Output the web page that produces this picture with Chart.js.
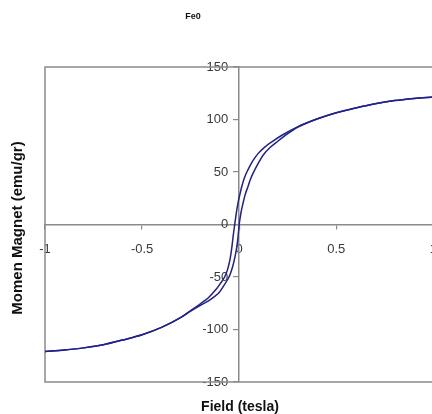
<!DOCTYPE html>
<html><head><meta charset="utf-8">
<script src="https://cdn.jsdelivr.net/npm/chart.js@4/dist/chart.umd.min.js"></script>
<style>
html,body{margin:0;padding:0;background:#fff;overflow:hidden;width:432px;height:414px}
#wrap{position:absolute;left:0;top:0;width:450px;height:414px}
</style></head><body><div id="wrap"><canvas id="c" width="450" height="414"></canvas></div>
<script>
// ---- data ----
const chartTitle = 'Fe0';
const xTitle = 'Field (tesla)';
const yTitle = 'Momen Magnet (emu/gr)';

const xTickValues = [-1, -0.5, 0, 0.5, 1];
const xTickLabels = ['-1', '-0.5', '0', '0.5', '1'];
const yTickValues = [-150, -100, -50, 0, 50, 100, 150];
const yTickLabels = ['-150', '-100', '-50', '0', '50', '100', '150'];

// descending-field branch (upper curve of the loop)
const downField  = [-1, -0.9, -0.8, -0.7, -0.6, -0.5, -0.4, -0.3, -0.25, -0.2, -0.16, -0.12, -0.1, -0.075, -0.06, -0.047, -0.038, -0.031, -0.023, -0.015, -0.006, 0.004, 0.013, 0.028, 0.045, 0.07, 0.097, 0.13, 0.17, 0.22, 0.3, 0.4, 0.5, 0.6, 0.7, 0.8, 0.9, 1];
const downMoment = [-121, -119.5, -117.5, -114.5, -110, -105, -98, -88.5, -82, -75.5, -70, -62, -57, -50, -43, -33, -22, -11, 0, 10.5, 20.5, 29, 36, 45, 52, 60.5, 67.5, 73.5, 79, 85, 93, 100.5, 106.5, 111, 115, 118, 120, 121.5];

// ascending-field branch (lower curve of the loop)
const upField  = [-1, -0.9, -0.8, -0.7, -0.6, -0.5, -0.4, -0.3, -0.25, -0.2, -0.16, -0.126, -0.1, -0.075, -0.05, -0.035, -0.022, -0.012, -0.005, 0, 0.008, 0.02, 0.03, 0.045, 0.06, 0.08, 0.1, 0.123, 0.16, 0.2, 0.25, 0.3, 0.4, 0.5, 0.6, 0.7, 0.8, 0.9, 1];
const upMoment = [-121, -119.5, -117.5, -114.5, -110, -105, -98, -88.5, -82.5, -77, -73, -68.5, -64, -57, -49, -41, -31, -21, -10, 0, 10, 20.5, 28, 36, 44, 52, 59, 66, 73.5, 79.5, 86.5, 92.5, 100.5, 106.5, 111, 115, 118, 120, 121.5];

// ---- build chart ----
const toPts = (xs, ys) => xs.map((x, i) => ({x: x, y: ys[i]}));
const lineColor = '#20208f';
const axisColor = '#8a8a8a';
const tickFont = {family: 'Liberation Sans, Arial, sans-serif', size: 13};
const yLabelGap = 6;

const framePlugin = {
  id: 'frame',
  afterUpdate(chart) {
    const s = chart.scales.y;
    if (!s._shifted) {
      const orig = s._computeLabelItems;
      s._computeLabelItems = function (ca) {
        const items = orig.call(this, ca);
        const tl = this.options.grid.tickLength;
        items.forEach(it => { it.options.translation[0] -= (tl + yLabelGap); });
        return items;
      };
      s._shifted = true;
      s._labelItems = null;
    }
  },
  beforeDatasetsDraw(chart) {
    const {ctx, chartArea: a} = chart;
    ctx.save();
    ctx.strokeStyle = axisColor;
    ctx.lineWidth = 1.5;
    ctx.strokeRect(a.left, a.top, a.right - a.left, a.bottom - a.top);
    ctx.restore();
  },
  afterDraw(chart) {
    const {ctx} = chart;
    ctx.save();
    ctx.fillStyle = '#111';
    ctx.textAlign = 'center';
    ctx.textBaseline = 'middle';
    ctx.font = 'bold 9px Liberation Sans, Arial, sans-serif';
    ctx.fillText(chartTitle, 193, 17);
    ctx.font = 'bold 14px Liberation Sans, Arial, sans-serif';
    ctx.fillText(xTitle, 240, 407);
    ctx.font = 'bold 15px Liberation Sans, Arial, sans-serif';
    ctx.translate(18, 228);
    ctx.rotate(-Math.PI / 2);
    ctx.fillText(yTitle, 0, 0);
    ctx.restore();
  }
};

new Chart(document.getElementById('c'), {
  type: 'scatter',
  data: {
    datasets: [
      {label: 'down', data: toPts(downField, downMoment), showLine: true, borderColor: lineColor, borderWidth: 1.5, pointRadius: 0, cubicInterpolationMode: 'monotone', fill: false},
      {label: 'up', data: toPts(upField, upMoment), showLine: true, borderColor: lineColor, borderWidth: 1.5, pointRadius: 0, cubicInterpolationMode: 'monotone', fill: false}
    ]
  },
  options: {
    responsive: false,
    animation: false,
    devicePixelRatio: 1,
    layout: {padding: {left: 45, right: 7, top: 67, bottom: 32}},
    plugins: {legend: {display: false}, tooltip: {enabled: false}, title: {display: false}},
    scales: {
      x: {
        type: 'linear', position: {y: 0}, min: -1, max: 1,
        afterBuildTicks: (s) => { s.ticks = xTickValues.map(v => ({value: v})); },
        ticks: {callback: (v) => { const i = xTickValues.indexOf(v); return i >= 0 ? xTickLabels[i] : ''; }, font: tickFont, color: '#3a3a3a', padding: 13, maxRotation: 0, autoSkip: false},
        grid: {drawOnChartArea: false, drawTicks: true, tickLength: 4, color: axisColor, lineWidth: 1.2},
        border: {color: axisColor, width: 1.5}
      },
      y: {
        type: 'linear', position: {x: 0}, min: -150, max: 150,
        afterBuildTicks: (s) => { s.ticks = yTickValues.map(v => ({value: v})); },
        ticks: {callback: (v) => { const i = yTickValues.indexOf(v); return i >= 0 ? yTickLabels[i] : ''; }, font: tickFont, color: '#3a3a3a', padding: 6, autoSkip: false},
        grid: {drawOnChartArea: false, drawTicks: true, tickLength: 5, color: axisColor, lineWidth: 1.2},
        border: {color: axisColor, width: 1.5}
      }
    }
  },
  plugins: [framePlugin]
});
</script></body></html>
